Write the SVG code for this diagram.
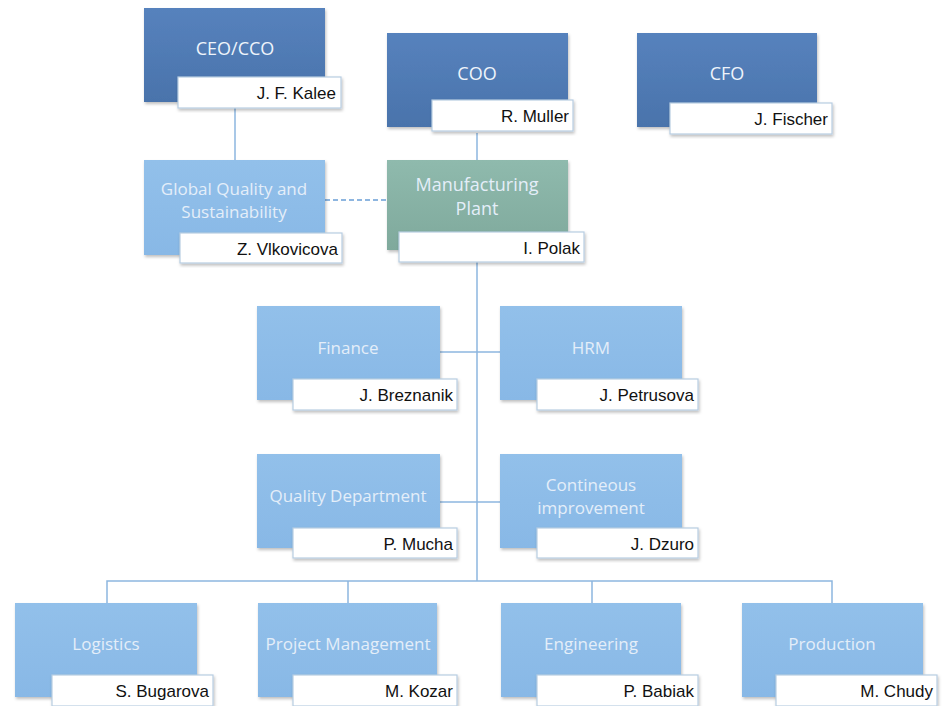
<svg xmlns="http://www.w3.org/2000/svg" width="944" height="706" viewBox="0 0 944 706">
<defs>
<linearGradient id="gDark" x1="0" y1="0" x2="0" y2="1"><stop offset="0" stop-color="#5682bd"/><stop offset="1" stop-color="#4a73ab"/></linearGradient>
<linearGradient id="gLight" x1="0" y1="0" x2="0" y2="1"><stop offset="0" stop-color="#92c0ea"/><stop offset="1" stop-color="#88b8e6"/></linearGradient>
<linearGradient id="gGreen" x1="0" y1="0" x2="0" y2="1"><stop offset="0" stop-color="#8fbaad"/><stop offset="1" stop-color="#7fa99c"/></linearGradient>
<filter id="sh" x="-5%" y="-5%" width="115%" height="120%"><feDropShadow dx="1" dy="2" stdDeviation="1.5" flood-color="#000" flood-opacity="0.25"/></filter>
</defs>
<style>
.dark{fill:url(#gDark);filter:url(#sh)}
.light{fill:url(#gLight);filter:url(#sh)}
.green{fill:url(#gGreen);filter:url(#sh)}
.nm{fill:#fff;stroke:#b7cde2;stroke-width:1.2;filter:url(#sh)}
.t{font-family:"Open Sans","Liberation Sans",sans-serif;font-size:17px;fill:#e4eef9;text-anchor:middle}
.tt{font-family:"Open Sans","Liberation Sans",sans-serif;font-size:18px;fill:#eef4fb;text-anchor:middle}
.n{font-family:"Liberation Sans","DejaVu Sans",sans-serif;font-size:17px;fill:#111;text-anchor:end}
.ln{fill:none;stroke:#8db6df;stroke-width:1.5}
</style>
<rect width="944" height="706" fill="#fff"/>
<g id="connectors">
<path class="ln" d="M235 108V160"/>
<path class="ln" d="M477 133V160"/>
<path class="ln" d="M325 200H387" stroke-dasharray="5,3" style="stroke:#6a9fd6"/>
<path class="ln" d="M477 262V581"/>
<path class="ln" d="M440 352H500"/>
<path class="ln" d="M440 502H500"/>
<path class="ln" d="M107 603V581H832V603"/>
<path class="ln" d="M348 581V603"/>
<path class="ln" d="M592 581V603"/>
</g>
<g id="ceo"><rect class="dark" x="144" y="8" width="181" height="94"/><text class="tt" x="235" y="55">CEO/CCO</text><rect class="nm" x="178" y="77" width="163" height="31"/><text class="n" x="336" y="99">J. F. Kalee</text></g>
<g id="coo"><rect class="dark" x="387" y="33" width="181" height="94"/><text class="tt" x="477" y="80">COO</text><rect class="nm" x="432" y="100" width="141" height="31"/><text class="n" x="569" y="122">R. Muller</text></g>
<g id="cfo"><rect class="dark" x="637" y="33" width="180" height="94"/><text class="tt" x="727" y="80">CFO</text><rect class="nm" x="670" y="103" width="162" height="31"/><text class="n" x="828" y="125">J. Fischer</text></g>
<g id="gq"><rect class="light" x="144" y="160" width="181" height="95"/><text class="t" x="234" y="195">Global Quality and</text><text class="t" x="234" y="218">Sustainability</text><rect class="nm" x="180" y="233" width="162" height="30"/><text class="n" x="338" y="255">Z. Vlkovicova</text></g>
<g id="mfg"><rect class="green" x="387" y="160" width="181" height="90"/><text class="t" x="477" y="191" style="font-size:18px">Manufacturing</text><text class="t" x="477" y="215" style="font-size:18px">Plant</text><rect class="nm" x="399" y="232" width="185" height="30"/><text class="n" x="580" y="254">I. Polak</text></g>
<g id="finance"><rect class="light" x="257" y="306" width="183" height="94"/><text class="t" x="348" y="354">Finance</text><rect class="nm" x="293" y="379" width="164" height="31"/><text class="n" x="453" y="401">J. Breznanik</text></g>
<g id="hrm"><rect class="light" x="500" y="306" width="182" height="94"/><text class="t" x="591" y="354">HRM</text><rect class="nm" x="537" y="379" width="161" height="31"/><text class="n" x="694" y="401">J. Petrusova</text></g>
<g id="quality"><rect class="light" x="257" y="454" width="183" height="94"/><text class="t" x="348" y="502">Quality Department</text><rect class="nm" x="293" y="528" width="164" height="30"/><text class="n" x="453" y="550">P. Mucha</text></g>
<g id="ci"><rect class="light" x="500" y="454" width="182" height="94"/><text class="t" x="591" y="491">Contineous</text><text class="t" x="591" y="514">improvement</text><rect class="nm" x="537" y="528" width="161" height="30"/><text class="n" x="694" y="550">J. Dzuro</text></g>
<g id="logistics"><rect class="light" x="15" y="603" width="182" height="94"/><text class="t" x="106" y="650">Logistics</text><rect class="nm" x="52" y="675" width="161" height="31"/><text class="n" x="209" y="697">S. Bugarova</text></g>
<g id="pm"><rect class="light" x="258" y="603" width="179" height="94"/><text class="t" x="348" y="650">Project Management</text><rect class="nm" x="293" y="675" width="164" height="31"/><text class="n" x="453" y="697">M. Kozar</text></g>
<g id="eng"><rect class="light" x="501" y="603" width="180" height="94"/><text class="t" x="591" y="650">Engineering</text><rect class="nm" x="537" y="675" width="161" height="31"/><text class="n" x="694" y="697">P. Babiak</text></g>
<g id="prod"><rect class="light" x="742" y="603" width="181" height="94"/><text class="t" x="832" y="650">Production</text><rect class="nm" x="776" y="675" width="161" height="31"/><text class="n" x="933" y="697">M. Chudy</text></g>
</svg>
